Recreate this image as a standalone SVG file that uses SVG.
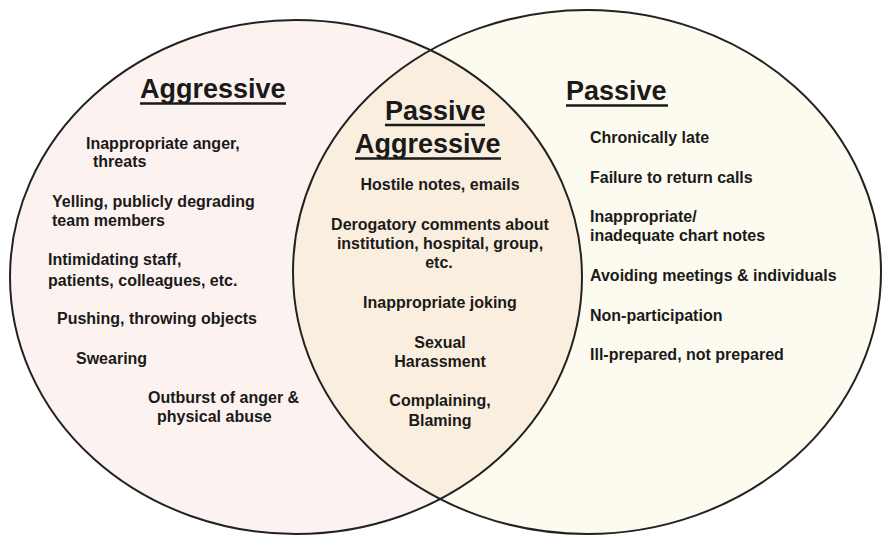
<svg xmlns="http://www.w3.org/2000/svg" width="883" height="536" viewBox="0 0 883 536">
  <style>
    .ring { fill: none; stroke: #222; stroke-width: 2; }
    .title { font-family: "Liberation Sans", Arial, sans-serif; font-weight: bold; font-size: 27px; fill: #1a1a1a; }
    .item { font-family: "Liberation Sans", Arial, sans-serif; font-weight: bold; font-size: 16px; fill: #1a1a1a; }
    .mid { text-anchor: middle; }
    .rule { stroke: #1a1a1a; stroke-width: 2.5; }
  </style>
  <defs>
    <clipPath id="clip-left">
      <ellipse cx="296" cy="277" rx="286" ry="257"/>
    </clipPath>
  </defs>
  <rect width="883" height="536" fill="#ffffff"/>

  <!-- set fills -->
  <ellipse cx="296" cy="277" rx="286" ry="257" fill="#fcf3f0"/>
  <ellipse cx="587" cy="272" rx="294" ry="262" fill="#fdfbef"/>
  <ellipse cx="587" cy="272" rx="294" ry="262" fill="#faefdf" clip-path="url(#clip-left)"/>
  <!-- set outlines -->
  <ellipse class="ring" cx="296" cy="277" rx="286" ry="257"/>
  <ellipse class="ring" cx="587" cy="272" rx="294" ry="262"/>

  <g id="aggressive">
    <text class="title" x="140" y="98">Aggressive</text>
    <line class="rule" x1="140" y1="103.5" x2="286" y2="103.5"/>
    <text class="item" x="86" y="149">Inappropriate anger,</text>
    <text class="item" x="93" y="167">threats</text>
    <text class="item" x="52" y="207">Yelling, publicly degrading</text>
    <text class="item" x="52" y="226">team members</text>
    <text class="item" x="48" y="265">Intimidating staff,</text>
    <text class="item" x="48" y="286">patients, colleagues, etc.</text>
    <text class="item" x="57" y="324">Pushing, throwing objects</text>
    <text class="item" x="76" y="364">Swearing</text>
    <text class="item" x="148" y="403">Outburst of anger &amp;</text>
    <text class="item" x="157" y="422">physical abuse</text>
  </g>

  <g id="passive-aggressive">
    <text class="title" x="385" y="120">Passive</text>
    <line class="rule" x1="385" y1="125" x2="485" y2="125"/>
    <text class="title" x="355" y="153">Aggressive</text>
    <line class="rule" x1="355" y1="158.5" x2="501" y2="158.5"/>
    <text class="item mid" x="440" y="190">Hostile notes, emails</text>
    <text class="item mid" x="440" y="230">Derogatory comments about</text>
    <text class="item mid" x="440" y="249">institution, hospital, group,</text>
    <text class="item mid" x="439" y="268">etc.</text>
    <text class="item mid" x="440" y="308">Inappropriate joking</text>
    <text class="item mid" x="440" y="348">Sexual</text>
    <text class="item mid" x="440" y="367">Harassment</text>
    <text class="item mid" x="440" y="406">Complaining,</text>
    <text class="item mid" x="440" y="426">Blaming</text>
  </g>

  <g id="passive">
    <text class="title" x="566" y="100">Passive</text>
    <line class="rule" x1="566" y1="105.5" x2="668" y2="105.5"/>
    <text class="item" x="590" y="143">Chronically late</text>
    <text class="item" x="590" y="183">Failure to return calls</text>
    <text class="item" x="590" y="222">Inappropriate/</text>
    <text class="item" x="590" y="241">inadequate chart notes</text>
    <text class="item" x="590" y="281">Avoiding meetings &amp; individuals</text>
    <text class="item" x="590" y="321">Non-participation</text>
    <text class="item" x="590" y="360">Ill-prepared, not prepared</text>
  </g>
</svg>
